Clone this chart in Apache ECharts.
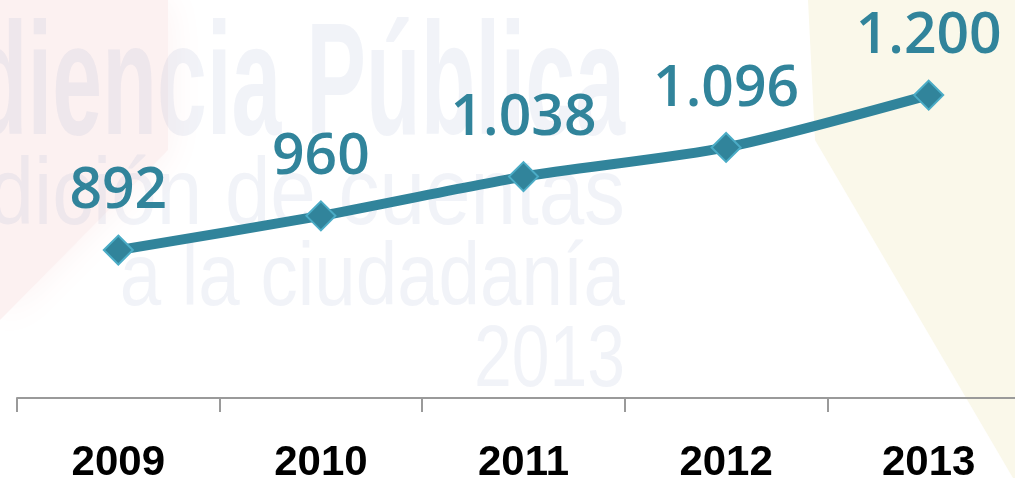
<!DOCTYPE html>
<html>
<head>
<meta charset="utf-8">
<script src="https://cdn.jsdelivr.net/npm/echarts@6/dist/echarts.min.js"></script>
<style>
  html, body { margin: 0; padding: 0; background: #fff; }
  #chart { width: 1015px; height: 478px; }
</style>
</head>
<body>
<div id="chart"></div>
<script>
var years = ['2009', '2010', '2011', '2012', '2013'];
var values = [892, 960, 1038, 1096, 1200];

// faint watermark text behind the chart
var watermark = ['Audiencia Pública', 'Rendición de cuentas', 'a la ciudadanía', '2013'];

var fmt = function (v) {
    if (v >= 1000) {
        var rest = String(v % 1000);
        while (rest.length < 3) rest = '0' + rest;
        return Math.floor(v / 1000) + '.' + rest;
    }
    return String(v);
};

var wmColor = 'rgba(160,175,205,0.15)';

var option = {
    backgroundColor: '#ffffff',
    animation: false,
    graphic: [
        {
            type: 'polygon',
            z: -10,
            shape: { points: [[0, 0], [168, 0], [168, 150], [0, 320]] },
            style: { fill: '#fcf1f1', shadowBlur: 40, shadowColor: '#fcf1f1' }
        },
        {
            type: 'polygon',
            z: -10,
            shape: { points: [[808, 0], [815, 140], [1013, 478], [1015, 478], [1015, 0]] },
            style: { fill: '#faf8ea' }
        },
        {
            type: 'text', z: -5, x: 625, y: 90, scaleX: 0.56,
            style: { text: watermark[0], fill: wmColor, fontFamily: 'Liberation Sans', fontWeight: 'bold',
                fontSize: 160, textAlign: 'right', textVerticalAlign: 'middle' }
        },
        {
            type: 'text', z: -5, x: 625, y: 198, scaleX: 0.87,
            style: { text: watermark[1], fill: wmColor, fontFamily: 'Liberation Sans',
                fontSize: 94, textAlign: 'right', textVerticalAlign: 'middle' }
        },
        {
            type: 'text', z: -5, x: 625, y: 280, scaleX: 0.837,
            style: { text: watermark[2], fill: wmColor, fontFamily: 'Liberation Sans',
                fontSize: 89, textAlign: 'right', textVerticalAlign: 'middle' }
        },
        {
            type: 'text', z: -5, x: 625, y: 362, scaleX: 0.78,
            style: { text: watermark[3], fill: wmColor, fontFamily: 'Liberation Sans',
                fontSize: 87, textAlign: 'right', textVerticalAlign: 'middle' }
        }
    ],
    grid: {
        left: 17,
        top: 0,
        width: 1013,
        bottom: 80,
        outerBoundsMode: 'none',
        containLabel: false
    },
    xAxis: {
        type: 'category',
        data: years,
        boundaryGap: true,
        axisLine: { show: true, lineStyle: { color: '#9a9a9a', width: 2 } },
        axisTick: { show: true, length: 14, lineStyle: { color: '#9a9a9a', width: 2 } },
        axisLabel: {
            color: '#000',
            fontFamily: 'Liberation Sans',
            fontWeight: 'bold',
            fontSize: 42,
            lineHeight: 42,
            margin: 44
        },
        splitLine: { show: false }
    },
    yAxis: {
        type: 'value',
        min: 598,
        max: 1389,
        show: false,
        splitLine: { show: false }
    },
    series: [
        {
            type: 'line',
            data: values,
            smooth: 0.25,
            symbol: 'diamond',
            symbolSize: 29,
            lineStyle: { color: '#31849b', width: 10 },
            itemStyle: { color: '#31849b', borderColor: '#4bacc6', borderWidth: 2 },
            label: {
                show: true,
                position: 'top',
                distance: 14,
                color: '#31849b',
                fontFamily: 'Open Sans',
                fontWeight: 600,
                fontSize: 57,
                lineHeight: 57,
                formatter: function (p) { return fmt(p.value); }
            }
        }
    ]
};

var myChart = echarts.init(document.getElementById('chart'));
myChart.setOption(option);
</script>
</body>
</html>
